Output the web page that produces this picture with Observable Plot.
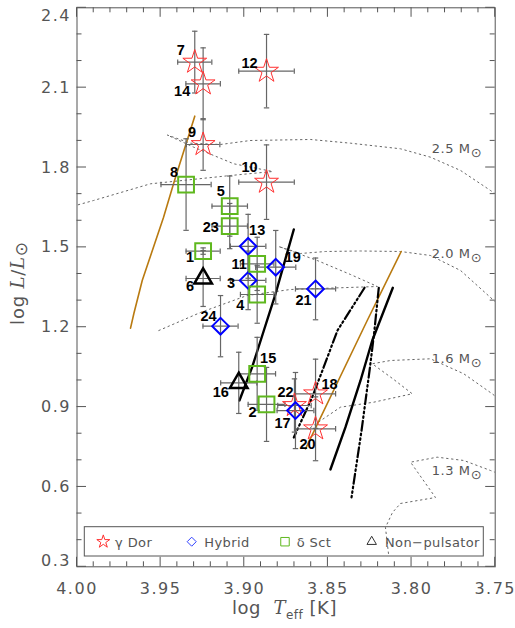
<!DOCTYPE html>
<html><head><meta charset="utf-8">
<script src="https://cdn.jsdelivr.net/npm/d3@7"></script>
<script src="https://cdn.jsdelivr.net/npm/@observablehq/plot@0.6"></script>
<style>
body{margin:0;background:#fff}
#chart svg{display:block}
#chart g[aria-label="x-axis tick label"] text, #chart g[aria-label="y-axis tick label"] text{letter-spacing:1.5px}
</style>
</head><body><div id="chart"></div>
<script>
// ---- stars ----
const ids = [1,2,3,4,5,6,7,8,9,10,11,12,13,14,15,16,17,18,19,20,21,22,23,24];
const classes = ["delta Sct","delta Sct","Hybrid","delta Sct","delta Sct","Non-pulsator","gamma Dor","delta Sct","gamma Dor","gamma Dor","delta Sct","gamma Dor","Hybrid","gamma Dor","delta Sct","Non-pulsator","Hybrid","gamma Dor","Hybrid","gamma Dor","Hybrid","gamma Dor","delta Sct","Hybrid"];
const logTeff = [3.9246,3.8867,3.8977,3.8923,3.9087,3.9246,3.9296,3.9348,3.9246,3.8867,3.8923,3.8867,3.8977,3.9246,3.8923,3.9033,3.8694,3.8574,3.8812,3.8574,3.8574,3.8700,3.9087,3.9142];
const logTeffErr = [0.0102,0.011,0.0106,0.010,0.0106,0.0102,0.0102,0.015,0.010,0.0166,0.010,0.0166,0.0106,0.0103,0.011,0.0108,0.011,0.012,0.012,0.012,0.012,0.010,0.0106,0.0105];
const logL = [1.486,0.910,1.376,1.323,1.655,1.383,2.196,1.736,1.8865,1.745,1.438,2.162,1.504,2.1145,1.025,0.991,0.887,0.950,1.4255,0.8185,1.344,0.906,1.580,1.204];
const logLErr = [0.012,0.139,0.11,0.108,0.113,0.105,0.116,0.172,0.097,0.14,0.10,0.138,0.12,0.135,0.137,0.115,0.143,0.13,0.138,0.12,0.116,0.10,0.085,0.115];

// ---- instability strip edges ----
const orangeBlue_teff = [3.9296,3.9417,3.9483,3.9610,3.9660,3.9680];
const orangeBlue_L    = [1.9928,1.7512,1.6122,1.3756,1.2516,1.1964];
const orangeRed_teff  = [3.8062,3.8265,3.8634];
const orangeRed_L     = [1.4845,1.2253,0.7433];
const solidBlue_teff  = [3.8704,3.8813,3.8883,3.8953,3.9029];
const solidBlue_L     = [1.5672,1.3256,1.1877,1.0499,0.9248];
const solidRed_teff   = [3.8112,3.8235,3.8305,3.8395,3.8485];
const solidRed_L      = [1.3482,1.1502,0.9999,0.8245,0.6656];
const dashBlue_teff   = [3.8281,3.8443,3.8526,3.8594,3.8704];
const dashBlue_L      = [1.3482,1.1877,1.0488,0.9372,0.7858];
const dashRed_teff    = [3.8196,3.8222,3.8251,3.8299,3.8359];
const dashRed_L       = [1.3482,1.1877,1.0375,0.8121,0.5604];

// ---- evolutionary tracks ----
const track25_teff = [4.005,3.9901,3.9561,3.9082,3.8831,3.9063,3.9302,3.9461,3.9321,3.9142,3.8963,3.8604,3.8365,3.8066,3.7887,3.7707,3.7528,3.7468];
const track25_L    = [1.650,1.6761,1.7388,1.770,1.785,1.814,1.8763,1.9222,1.8914,1.8865,1.9015,1.9053,1.8914,1.8703,1.8388,1.7888,1.7137,1.6874];
const track20_teff = [3.9511,3.9262,3.8983,3.8724,3.8204,3.8365,3.8564,3.8795,3.8664,3.8514,3.8305,3.8066,3.7887,3.7707,3.7528,3.7468];
const track20_L    = [1.1877,1.2554,1.3192,1.3418,1.353,1.3981,1.4507,1.5033,1.477,1.4845,1.4864,1.4845,1.4695,1.4131,1.3117,1.2779];
const track16_teff = [3.8604,3.8425,3.8226,3.7996,3.8114,3.8235,3.8126,3.7887,3.7688,3.7518,3.7468];
const track16_L    = [0.8234,0.8996,0.9184,0.950,1.0074,1.0627,1.075,1.0814,1.0251,0.950,0.9248];
const track13_teff = [3.8138,3.8156,3.8114,3.8066,3.7857,3.8006,3.7847,3.7688,3.7528,3.7468];
const track13_L    = [0.3501,0.4477,0.5041,0.5379,0.5604,0.693,0.7118,0.6994,0.6618,0.6468];
const massLabels = ["2.5","2.0","1.6","1.3"];
const massLabelTeff = [3.7877,3.7877,3.7877,3.7877];
const massLabelL = [1.8515,1.4571,1.0619,0.643];

// ---- axes ----
const xTicks = [4.00,3.95,3.90,3.85,3.80,3.75];
const yTicks = [0.3,0.6,0.9,1.2,1.5,1.8,2.1,2.4];
const legendLabels = ["γ Dor","Hybrid","δ Sct","Non−pulsator"];

// ---------------------------------------------------------------
const rows = ids.map((id,i)=>({id, cls: classes[i], x: logTeff[i], xe: logTeffErr[i], y: logL[i], ye: logLErr[i]}));
const pts = (t,l)=>t.map((v,i)=>({x:v,y:l[i]}));

const labelOffset = {7:[-14,-12],14:[-21,8],9:[-11,-12],12:[-17,-8],10:[-17,-15],8:[-12,-12],5:[-9,-15],23:[-19,1],13:[9,-16],11:[-18,0],3:[-17,3],4:[-17,11],19:[17,-10],21:[-12,11],1:[-13,6],6:[-13,8],24:[-12,-10],15:[11,-15],2:[-14,8],16:[-18,9],17:[-13,13],22:[-9,-13],18:[14,-9],20:[-8,16]};

const style = {
  "gamma Dor": {symbol:"star", r:7.5, stroke:"#ff3030", strokeWidth:1},
  "Hybrid": {symbol:"diamond2", r:7.5, stroke:"#0000ff", strokeWidth:2},
  "delta Sct": {symbol:"square", r:8.9, stroke:"#5fb81e", strokeWidth:2},
  "Non-pulsator": {symbol:"triangle2", r:8.4, stroke:"#000", strokeWidth:2.5}
};
const vcap = {draw(c,s){const r=Math.sqrt(s/Math.PI);c.moveTo(0,-r);c.lineTo(0,r);}};
const hcap = {draw(c,s){const r=Math.sqrt(s/Math.PI);c.moveTo(-r,0);c.lineTo(r,0);}};
const errColor = "#666";
const trackStyle = {stroke:"#666", strokeWidth:1, strokeDasharray:"1.5,3.5", clip:true};
const dashDot = "10,3,1.6,3,1.6,3,1.6,3";

const marks = [
  Plot.line(pts(track25_teff,track25_L), {x:"x",y:"y",...trackStyle}),
  Plot.line(pts(track20_teff,track20_L), {x:"x",y:"y",...trackStyle}),
  Plot.line(pts(track16_teff,track16_L), {x:"x",y:"y",...trackStyle}),
  Plot.line(pts(track13_teff,track13_L), {x:"x",y:"y",...trackStyle}),
  Plot.line(pts(orangeBlue_teff,orangeBlue_L), {x:"x",y:"y",stroke:"#b97a10",strokeWidth:1.6}),
  Plot.line(pts(orangeRed_teff,orangeRed_L), {x:"x",y:"y",stroke:"#b97a10",strokeWidth:1.6}),
  Plot.line(pts(solidBlue_teff,solidBlue_L), {x:"x",y:"y",stroke:"#000",strokeWidth:2.4}),
  Plot.line(pts(solidRed_teff,solidRed_L), {x:"x",y:"y",stroke:"#000",strokeWidth:2.4}),
  Plot.line(pts(dashBlue_teff,dashBlue_L), {x:"x",y:"y",stroke:"#000",strokeWidth:2.2,strokeDasharray:dashDot}),
  Plot.line(pts(dashRed_teff,dashRed_L), {x:"x",y:"y",stroke:"#000",strokeWidth:2.2,strokeDasharray:dashDot}),
  // error bars
  Plot.ruleY(rows, {y:"y", x1:d=>d.x-d.xe, x2:d=>d.x+d.xe, stroke:errColor, strokeWidth:1.2}),
  Plot.ruleX(rows, {x:"x", y1:d=>d.y-d.ye, y2:d=>d.y+d.ye, stroke:errColor, strokeWidth:1.2}),
  Plot.dot(rows, {x:d=>d.x-d.xe, y:"y", symbol:vcap, r:2.7, fill:"none", stroke:errColor, strokeWidth:1.2}),
  Plot.dot(rows, {x:d=>d.x+d.xe, y:"y", symbol:vcap, r:2.7, fill:"none", stroke:errColor, strokeWidth:1.2}),
  Plot.dot(rows, {x:"x", y:d=>d.y-d.ye, symbol:hcap, r:2.7, fill:"none", stroke:errColor, strokeWidth:1.2}),
  Plot.dot(rows, {x:"x", y:d=>d.y+d.ye, symbol:hcap, r:2.7, fill:"none", stroke:errColor, strokeWidth:1.2}),
  ...Object.entries(style).map(([k,s])=>Plot.dot(rows.filter(d=>d.cls===k), {x:"x",y:"y",fill:"none",...s})),
  ...rows.map(d=>Plot.text([d], {x:"x",y:"y",text:d=>String(d.id),dx:labelOffset[d.id][0],dy:labelOffset[d.id][1],fontSize:14.5,fontWeight:"bold",fontFamily:"Liberation Sans",fill:"#000"})),
  Plot.frame({stroke:"#555", strokeWidth:1}),
  Plot.axisX({ticks:xTicks, tickSize:0, tickPadding:15.5, tickFormat:d3.format(".2f"), fontSize:16, fill:"#555"}),
  Plot.axisY({ticks:yTicks.slice(1,-1), tickSize:0, tickPadding:6, tickFormat:d3.format(".1f"), fontSize:16, fill:"#555"}),
  Plot.axisY({ticks:[yTicks[yTicks.length-1]], tickSize:0, tickPadding:6, tickFormat:d3.format(".1f"), fontSize:16, fill:"#555", dy:8}),
  Plot.axisY({ticks:[yTicks[0]], tickSize:0, tickPadding:6, tickFormat:d3.format(".1f"), fontSize:16, fill:"#555", dy:-6})
];

const plot = Plot.plot({
  width:515, height:628,
  marginLeft:76.5, marginRight:20.3, marginTop:7.3, marginBottom:61.7,
  x:{domain:[4.0,3.75], label:null},
  y:{domain:[0.3,2.4], label:null},
  style:{fontFamily:"DejaVu Sans", background:"#fff", overflow:"visible"},
  marks
});
document.getElementById("chart").appendChild(plot);

// ---- inward tick marks, titles, mass labels, legend ----
const svg = d3.select(plot);
const sx = plot.scale("x"), sy = plot.scale("y");
const X = v=>sx.apply(v), Y = v=>sy.apply(v);
const [x0,x1] = [X(4.0), X(3.75)], [yb,yt] = [Y(0.3), Y(2.4)];
const tg = svg.append("g").attr("stroke","#555").attr("stroke-width",1);
for (let i=0;i<=25;i++){
  const v = 4.0 - i*0.01, len = i%5===0 ? 9.5 : 5;
  tg.append("line").attr("x1",X(v)).attr("x2",X(v)).attr("y1",yb).attr("y2",yb-len);
  tg.append("line").attr("x1",X(v)).attr("x2",X(v)).attr("y1",yt).attr("y2",yt+len);
}
for (let i=0;i<=21;i++){
  const v = 0.3 + i*0.1, len = i%3===0 ? 9.5 : 5;
  tg.append("line").attr("y1",Y(v)).attr("y2",Y(v)).attr("x1",x0).attr("x2",x0+len);
  tg.append("line").attr("y1",Y(v)).attr("y2",Y(v)).attr("x1",x1).attr("x2",x1-len);
}

// mass labels
massLabels.forEach((m,i)=>{
  const t = svg.append("text").attr("x",X(massLabelTeff[i])).attr("y",Y(massLabelL[i]))
    .attr("text-anchor","start")
    .attr("font-family","DejaVu Sans").attr("font-size",13).attr("fill","#555").attr("letter-spacing","0.6px");
  t.append("tspan").text(m+" M");
  t.append("tspan").attr("dy",4).attr("font-size",13).text("⊙");
});

// y title
const yt_ = svg.append("text").attr("transform","translate(24,283) rotate(-90)").attr("text-anchor","middle")
  .attr("font-family","DejaVu Sans").attr("font-size",18).attr("fill","#555").attr("letter-spacing","0.8px");
yt_.append("tspan").text("log ");
yt_.append("tspan").attr("font-family","DejaVu Serif").attr("font-style","italic").text("L");
yt_.append("tspan").text("/");
yt_.append("tspan").attr("font-family","DejaVu Serif").attr("font-style","italic").text("L");
yt_.append("tspan").attr("dy",3).attr("font-size",17).text("⊙");

// x title
const xt_ = svg.append("text").attr("x",284.5).attr("y",614).attr("text-anchor","middle")
  .attr("font-family","DejaVu Sans").attr("font-size",18).attr("fill","#555").attr("letter-spacing","0.5px");
xt_.append("tspan").text("log  ");
xt_.append("tspan").attr("font-family","DejaVu Serif").attr("font-style","italic").text("T");
xt_.append("tspan").attr("dy",5).attr("font-size",12).text("eff");
xt_.append("tspan").attr("dy",-5).text(" [K]");

// legend
const lg = svg.append("g");
lg.append("rect").attr("x",84.3).attr("y",526.7).attr("width",399).attr("height",29.3)
  .attr("fill","none").attr("stroke","#555").attr("stroke-width",1);
const legSym = [
  {type:d3.symbolStar, size:52, stroke:"#ff3030", x:103.3},
  {type:d3.symbolDiamond2, size:52, stroke:"#3040ff", x:191.7},
  {type:d3.symbolSquare, size:72, stroke:"#5fb81e", x:285},
  {type:d3.symbolTriangle2, size:64, stroke:"#333", x:371.7}
];
const legText = [115, 204.3, 296.7, 385];
legSym.forEach((s,i)=>{
  lg.append("path").attr("d",d3.symbol(s.type,s.size)()).attr("transform",`translate(${s.x},541.7)`)
    .attr("fill","none").attr("stroke",s.stroke).attr("stroke-width",1);
  lg.append("text").attr("x",legText[i]).attr("y",546.5).attr("text-anchor","start")
    .attr("font-family","DejaVu Sans").attr("font-size",13)
    .attr("fill","#555").attr("letter-spacing","0.4px").text(legendLabels[i]);
});
</script>
</body></html>
